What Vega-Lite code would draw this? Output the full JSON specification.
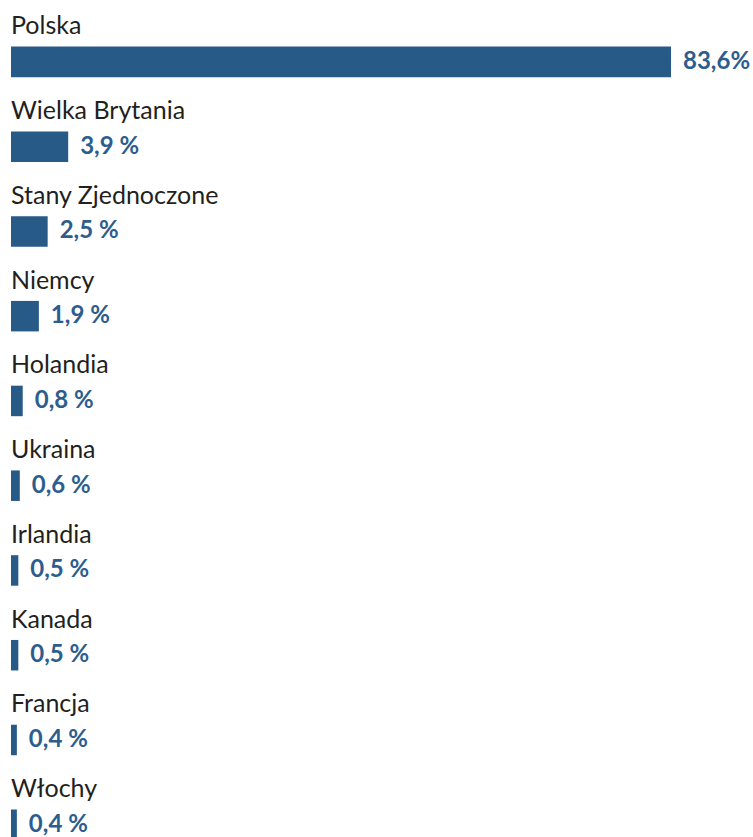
{
  "$schema": "https://vega.github.io/schema/vega-lite/v6.json",
  "width": 660,
  "height": 840,
  "autosize": {"type": "none"},
  "padding": {"left": 11, "top": 0, "right": 82, "bottom": 0},
  "background": "white",
  "config": {"view": {"stroke": null}},
  "data": {
    "values": [
      {"country": "Polska", "value": 83.6, "label": "83,6%"},
      {"country": "Wielka Brytania", "value": 3.9, "label": "3,9 %"},
      {"country": "Stany Zjednoczone", "value": 2.5, "label": "2,5 %"},
      {"country": "Niemcy", "value": 1.9, "label": "1,9 %"},
      {"country": "Holandia", "value": 0.8, "label": "0,8 %"},
      {"country": "Ukraina", "value": 0.6, "label": "0,6 %"},
      {"country": "Irlandia", "value": 0.5, "label": "0,5 %"},
      {"country": "Kanada", "value": 0.5, "label": "0,5 %"},
      {"country": "Francja", "value": 0.4, "label": "0,4 %"},
      {"country": "Włochy", "value": 0.4, "label": "0,4 %"}
    ]
  },
  "encoding": {
    "y": {
      "field": "country",
      "type": "nominal",
      "sort": null,
      "axis": null,
      "scale": {"paddingInner": 0.64, "paddingOuter": 0.275, "align": 1}
    }
  },
  "layer": [
    {
      "mark": {"type": "bar", "color": "#285a88"},
      "encoding": {
        "x": {
          "field": "value",
          "type": "quantitative",
          "axis": null,
          "scale": {"domain": [0.265, 41], "clamp": true, "zero": false}
        }
      }
    },
    {
      "mark": {
        "type": "text",
        "align": "left",
        "baseline": "middle",
        "dx": 12,
        "font": "Lato",
        "fontSize": 24,
        "fontWeight": "bold",
        "color": "#2d5d8e"
      },
      "encoding": {
        "x": {"field": "value", "type": "quantitative"},
        "text": {"field": "label"}
      }
    },
    {
      "mark": {
        "type": "text",
        "align": "left",
        "baseline": "alphabetic",
        "dy": -27.5,
        "font": "Lato",
        "fontSize": 25,
        "color": "#231f20"
      },
      "encoding": {
        "x": {"datum": 0, "type": "quantitative"},
        "text": {"field": "country"}
      }
    }
  ]
}
